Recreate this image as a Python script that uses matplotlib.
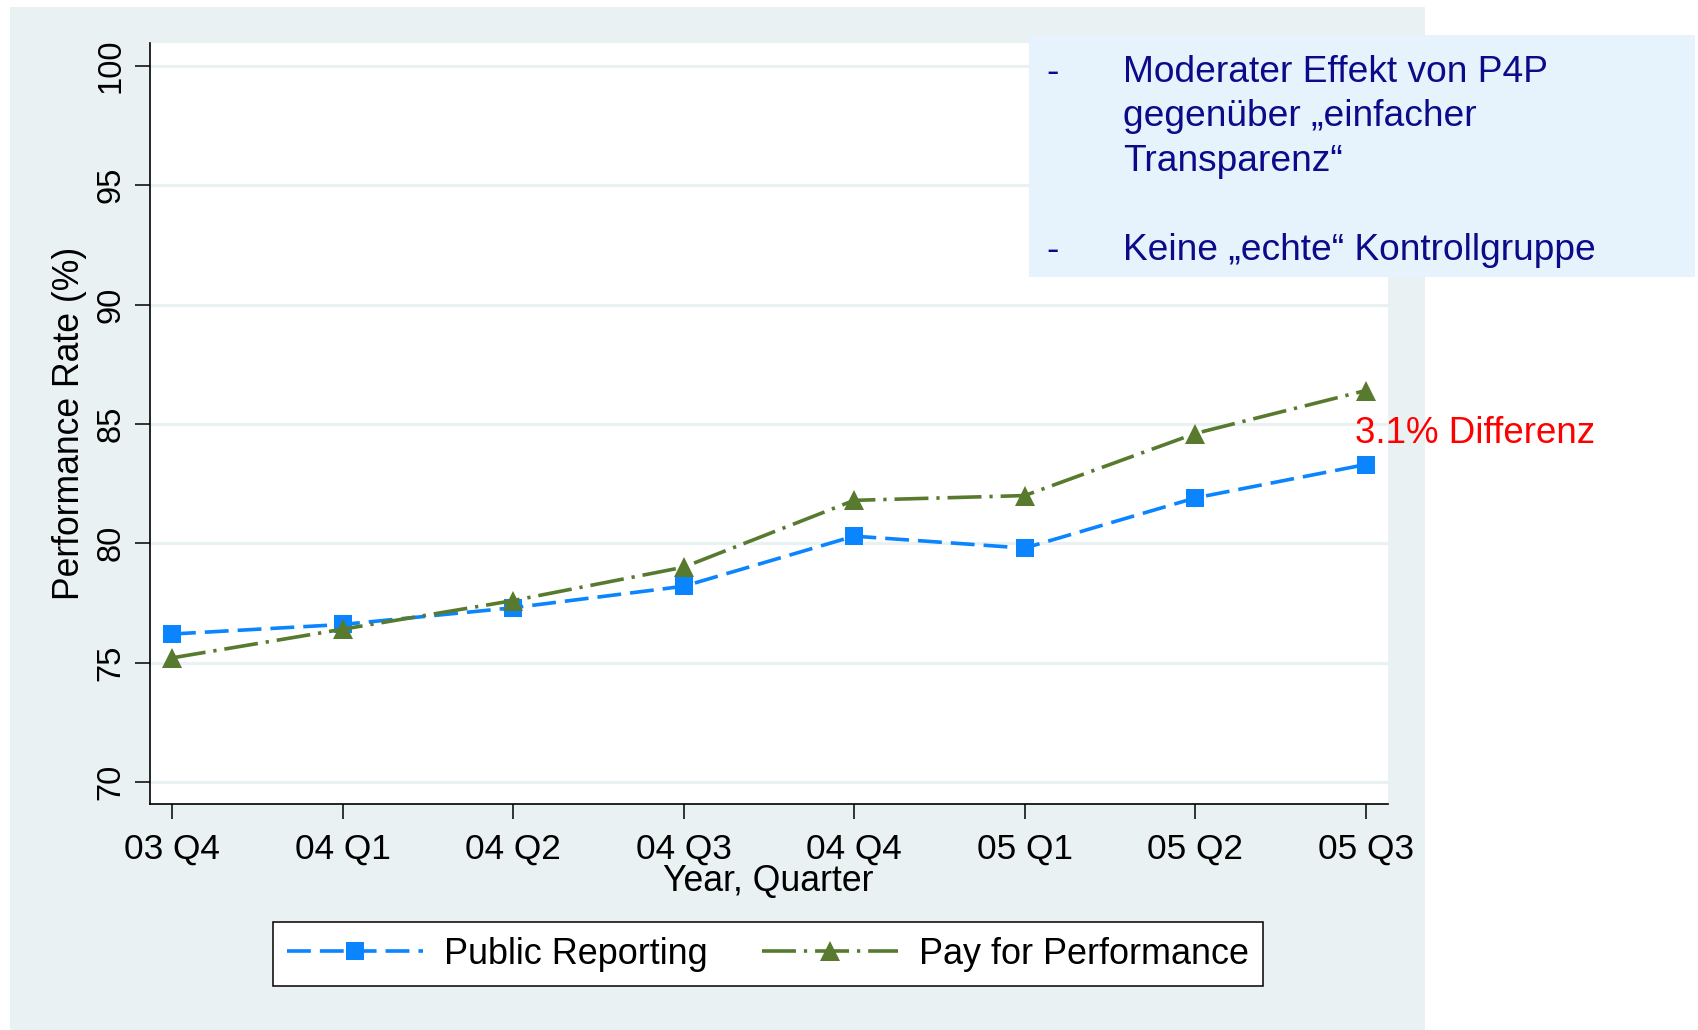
import matplotlib.pyplot as plt
from matplotlib.patches import Rectangle

plt.rcParams['font.family'] = ['Liberation Sans', 'DejaVu Sans']

# Data
quarters = ['03 Q4', '04 Q1', '04 Q2', '04 Q3', '04 Q4', '05 Q1', '05 Q2', '05 Q3']
public_reporting = [76.2, 76.6, 77.3, 78.2, 80.3, 79.8, 81.9, 83.3]
pay_for_performance = [75.2, 76.4, 77.6, 79.0, 81.8, 82.0, 84.6, 86.4]
y_ticks = [70, 75, 80, 85, 90, 95, 100]

note_lines = ['Moderater Effekt von P4P', 'gegenüber \u201eeinfacher', 'Transparenz\u201c',
              '', 'Keine \u201eechte\u201c Kontrollgruppe']
diff_label = '3.1% Differenz'

W, H = 1698, 1030
fig = plt.figure(figsize=(W / 100, H / 100), dpi=100, facecolor='white')

panel_col = '#e9f1f3'
blue = '#0a84ff'
green = '#587a2f'

# light bluish-gray graph region
fig.add_artist(Rectangle((10 / W, 0), (1425 - 10) / W, (H - 6.5) / H,
                         transform=fig.transFigure, facecolor=panel_col,
                         edgecolor='none', zorder=-5))

ax = fig.add_axes([149.5 / W, (H - 803.5) / H, (1388 - 149.5) / W, (803.5 - 43) / H])
ax.set_facecolor('white')

x = list(range(len(quarters)))
lw = 2.6
ax.plot(x, public_reporting, color=blue, lw=lw, linestyle=(0, (6.6, 2.5)),
        marker='s', markersize=13, markeredgewidth=0, label='Public Reporting', zorder=3)
ax.plot(x, pay_for_performance, color=green, lw=lw, linestyle=(0, (9.4, 2.2, 0.9, 2.2)),
        marker='^', markersize=15, markeredgewidth=0, label='Pay for Performance', zorder=3)

ax.set_xlim(-0.132, 7.131)
ax.set_ylim(69.1, 100.96)
ax.set_xticks(x)
ax.set_xticklabels(quarters)
ax.set_yticks(y_ticks)
ax.yaxis.grid(True, color=panel_col, lw=2.3)
ax.set_axisbelow(True)

for s in ['top', 'right']:
    ax.spines[s].set_visible(False)
for s in ['left', 'bottom']:
    ax.spines[s].set_linewidth(1.2)

ax.tick_params(axis='x', length=11, width=1.1, pad=10, labelsize=25.4)
ax.tick_params(axis='y', length=11, width=1.1, pad=5.4, labelsize=23.6, labelrotation=90)
plt.setp(ax.get_yticklabels(), va='center')

ax.set_xlabel('Year, Quarter', fontsize=25.7)
ax.xaxis.set_label_coords(0.5, -0.0796)
ax.set_ylabel('Performance Rate (%)', fontsize=25.6)
ax.yaxis.set_label_coords(-0.0501, 0.5)

leg = fig.legend(loc='center', bbox_to_anchor=(768 / W, 1 - 954 / H), ncol=2,
                 fontsize=25.9, handlelength=3.8, handletextpad=0.58, columnspacing=1.5,
                 borderpad=0.39, borderaxespad=0, numpoints=1, fancybox=False,
                 frameon=True, edgecolor='black', facecolor='white', framealpha=1)
leg.get_frame().set_linewidth(1.1)

# note box
fig.add_artist(Rectangle((1029 / W, 1 - 277 / H), (1695 - 1029) / W, (277 - 35) / H,
                         transform=fig.transFigure, facecolor='#e6f3fc',
                         edgecolor='none', zorder=5))
navy = '#0b0b8a'
line_step = 44.5
for i, line in enumerate(note_lines):
    if not line:
        continue
    yb = 81.7 + i * line_step
    if i in (0, 4):
        fig.text(1053 / W, 1 - yb / H, '-', color=navy, fontsize=26.7,
                 ha='center', va='baseline', zorder=6)
    fig.text(1123 / W, 1 - yb / H, line, color=navy, fontsize=26.7,
             ha='left', va='baseline', zorder=6)

fig.text(1355 / W, 1 - 443 / H, diff_label, color='#ff0000', fontsize=26.5,
         ha='left', va='baseline', zorder=6)

fig.savefig('out.png', dpi=100, facecolor='white')
